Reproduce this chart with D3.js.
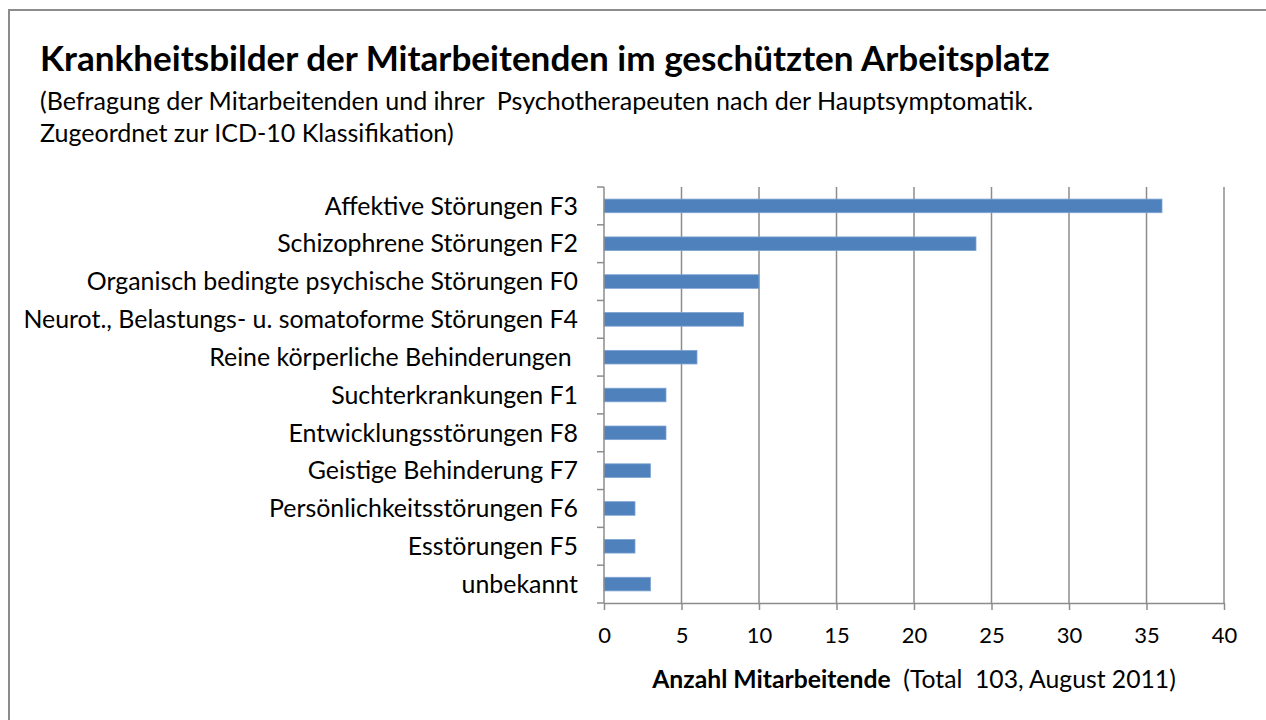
<!DOCTYPE html>
<html>
<head>
<meta charset="utf-8">
<script src="https://cdn.jsdelivr.net/npm/d3@7"></script>
<style>
  body { margin: 0; background: #fff; }
  text { font-family: Lato, "Open Sans", sans-serif; fill: #000; }
</style>
</head>
<body>
<div id="chart"></div>
<script>
// categories top to bottom
var categories = [
    "Affektive Störungen F3",
    "Schizophrene Störungen F2",
    "Organisch bedingte psychische Störungen F0",
    "Neurot., Belastungs- u. somatoforme Störungen F4",
    "Reine körperliche Behinderungen ",
    "Suchterkrankungen F1",
    "Entwicklungsstörungen F8",
    "Geistige Behinderung F7",
    "Persönlichkeitsstörungen F6",
    "Esstörungen F5",
    "unbekannt"
];
var counts = [36, 24, 10, 9, 6, 4, 4, 3, 2, 2, 3];
var xTicks = [0, 5, 10, 15, 20, 25, 30, 35, 40];

var title = "Krankheitsbilder der Mitarbeitenden im geschützten Arbeitsplatz";
var subtitle = [
    "(Befragung der Mitarbeitenden und ihrer  Psychotherapeuten nach der Hauptsymptomatik.",
    "Zugeordnet zur ICD-10 Klassifikation)"
];

var w = 1266, h = 720;
var svg = d3.select("#chart").append("svg")
    .attr("width", w)
    .attr("height", h);

// scale a text's font size so its width matches the original
function fitWidth(sel, target) {
    var len = sel.node().getComputedTextLength();
    var size = parseFloat(sel.style("font-size"));
    return size * target / len;
}

// outer frame, runs off the right and bottom edge
svg.append("rect")
    .attr("x", 9).attr("y", 10)
    .attr("width", w).attr("height", h)
    .attr("fill", "none")
    .attr("stroke", "#8c8c8c")
    .attr("stroke-width", 2);

var titleText = svg.append("text")
    .attr("x", 40).attr("y", 71)
    .style("font-size", "28px")
    .style("font-weight", "bold")
    .text(title);
titleText.style("font-size", fitWidth(titleText, 1010) + "px");

var subs = svg.selectAll(".sub")
    .data(subtitle)
    .enter().append("text")
    .attr("class", "sub")
    .attr("x", 40)
    .attr("y", function(d, i) { return 110 + i * 32; })
    .style("font-size", "19px")
    .style("white-space", "pre")
    .text(function(d) { return d; });
subs.style("font-size", fitWidth(subs.filter(function(d, i) { return i == 0; }), 994) + "px");

var pLeft = 604, pRight = 1224, pTop = 187, pBottom = 603;

var x = d3.scaleLinear().domain([0, 40]).range([pLeft, pRight]);
var y = d3.scaleBand().domain(categories).range([pTop, pBottom]).paddingInner(0.64).paddingOuter(0.32);

// vertical gridlines
svg.append("g")
    .selectAll("line")
    .data(xTicks.slice(1))
    .enter().append("line")
    .attr("x1", function(d) { return x(d); })
    .attr("x2", function(d) { return x(d); })
    .attr("y1", pTop).attr("y2", pBottom)
    .attr("stroke", "#8c8c8c")
    .attr("stroke-width", 1.5);

// bars
svg.append("g")
    .selectAll("rect")
    .data(counts)
    .enter().append("rect")
    .attr("x", x(0))
    .attr("y", function(d, i) { return y(categories[i]); })
    .attr("width", function(d) { return x(d) - x(0); })
    .attr("height", y.bandwidth())
    .attr("fill", "#4f81bd")
    .attr("stroke", "#7ea3d3")
    .attr("stroke-width", 0.8);

// bottom axis
var xAxis = svg.append("g")
    .attr("transform", "translate(0," + pBottom + ")")
    .call(d3.axisBottom(x).tickValues(xTicks).tickSize(7).tickSizeOuter(0).tickPadding(17));
xAxis.select(".domain").attr("stroke", "#8c8c8c").attr("stroke-width", 1.5);
xAxis.selectAll(".tick line").attr("stroke", "#8c8c8c").attr("stroke-width", 1.5);
xAxis.selectAll(".tick text")
    .style("font-size", "22px")
    .style("font-family", "Lato, sans-serif")
    .attr("fill", "#000");

// left axis: ticks sit on the category boundaries
var yEdges = d3.range(categories.length + 1).map(function(i) {
    return pTop + i * (pBottom - pTop) / categories.length;
});
svg.append("line")
    .attr("x1", pLeft).attr("x2", pLeft)
    .attr("y1", pTop).attr("y2", pBottom)
    .attr("stroke", "#8c8c8c").attr("stroke-width", 1.5);
svg.append("g")
    .selectAll("line")
    .data(yEdges)
    .enter().append("line")
    .attr("x1", pLeft - 7).attr("x2", pLeft)
    .attr("y1", function(d) { return d; })
    .attr("y2", function(d) { return d; })
    .attr("stroke", "#8c8c8c").attr("stroke-width", 1.5);

var labels = svg.append("g")
    .selectAll("text")
    .data(categories)
    .enter().append("text")
    .attr("x", 578)
    .attr("y", function(d) { return y(d) + y.bandwidth() / 2; })
    .attr("dy", "0.35em")
    .attr("text-anchor", "end")
    .style("font-size", "20px")
    .style("white-space", "pre")
    .text(function(d) { return d; });
labels.style("font-size", fitWidth(labels.filter(function(d, i) { return i == 3; }), 555) + "px");

// axis title: bold part and plain part
var axTitle = svg.append("text")
    .attr("x", (pLeft + pRight) / 2)
    .attr("y", 688)
    .attr("text-anchor", "middle")
    .style("font-size", "20px")
    .style("white-space", "pre");
axTitle.append("tspan").style("font-weight", "bold").text("Anzahl Mitarbeitende");
axTitle.append("tspan").text("  (Total  103, August 2011)");
axTitle.style("font-size", fitWidth(axTitle, 524) + "px");
</script>
</body>
</html>
